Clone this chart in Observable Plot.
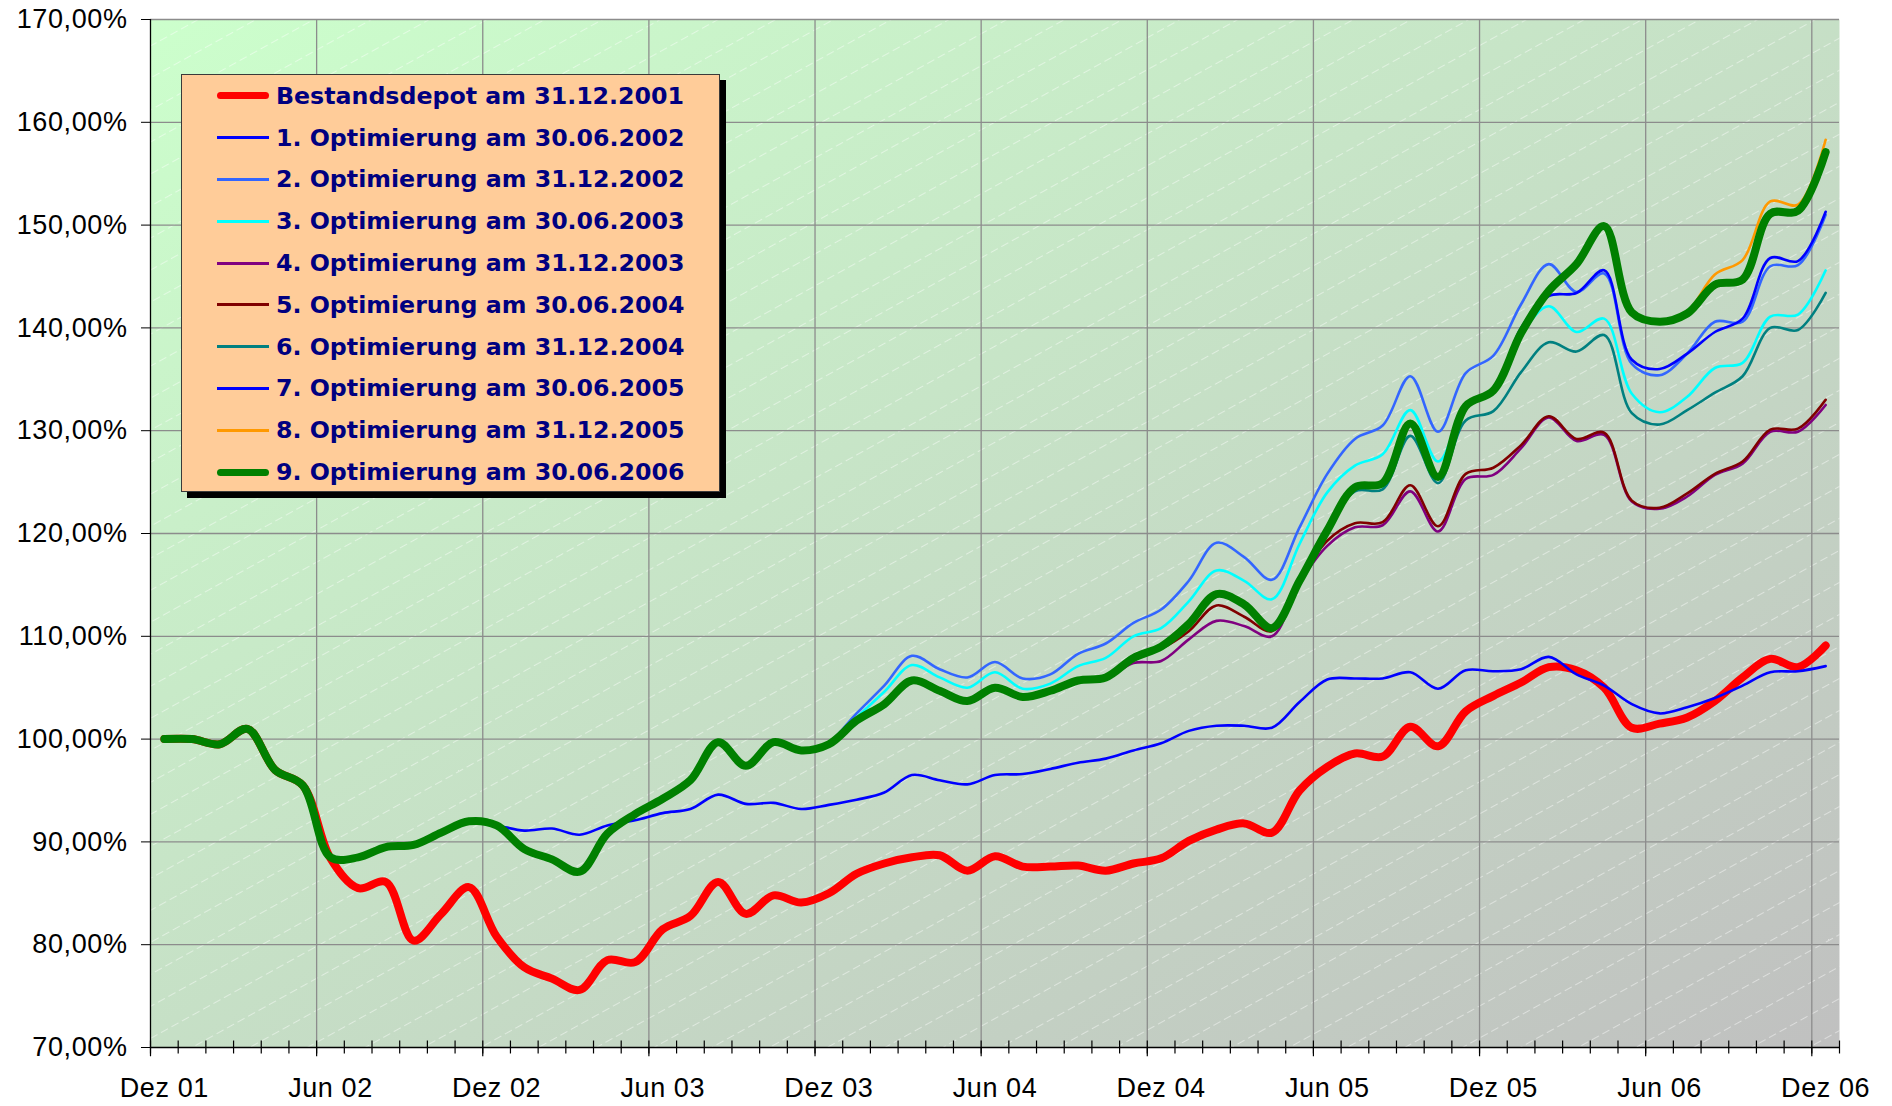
<!DOCTYPE html>
<html>
<head>
<meta charset="utf-8">
<script src="https://cdn.jsdelivr.net/npm/d3@7"></script>
<script src="https://cdn.jsdelivr.net/npm/@observablehq/plot@0.6"></script>
<style>
  html, body { margin: 0; padding: 0; background: #fff; overflow: hidden; }
  #wrap { position: relative; width: 1892px; height: 1106px; }
  #legend {
    position: absolute; left: 181px; top: 74px; width: 537px; height: 416px;
    background: #FFCC99; border: 1px solid #3a3a3a; box-shadow: 6px 6px 0 0 #000;
    font-family: "DejaVu Sans", Verdana, sans-serif; font-weight: bold; font-size: 23.7px; color: #000080;
  }
  #legend .row { display: flex; align-items: center; height: 41.8px; white-space: nowrap; }
  #legend .sw { width: 52px; margin-left: 35px; margin-right: 7px; }
</style>
</head>
<body>
<div id="wrap"><div id="legend"></div></div>
<script>
// ---- Data (monthly, Dez 01 = index 0 ... Dez 06 = index 60) ----
const tickLabels = ["Dez 01","Jun 02","Dez 02","Jun 03","Dez 03","Jun 04","Dez 04","Jun 05","Dez 05","Jun 06","Dez 06"];
const yTicks = [70, 80, 90, 100, 110, 120, 130, 140, 150, 160, 170];

const seriesNames = [
  "Bestandsdepot am 31.12.2001",
  "1. Optimierung am 30.06.2002",
  "2. Optimierung am 31.12.2002",
  "3. Optimierung am 30.06.2003",
  "4. Optimierung am 31.12.2003",
  "5. Optimierung am 30.06.2004",
  "6. Optimierung am 31.12.2004",
  "7. Optimierung am 30.06.2005",
  "8. Optimierung am 31.12.2005",
  "9. Optimierung am 30.06.2006"
];
// month index at which each series starts
const seriesStart = [0, 6, 12, 18, 24, 30, 36, 42, 48, 0];

const bestand = [100.0,100.0,99.5,101.0,97.0,95.5,88.4,85.5,86.1,80.4,83.0,85.6,
  80.8,77.8,76.7,75.6,78.5,78.3,81.5,82.8,86.1,83.0,84.8,84.1,
  85.0,86.9,87.9,88.5,88.7,87.2,88.6,87.6,87.6,87.7,87.2,87.9,
  88.4,90.1,91.2,91.8,90.9,95.0,97.3,98.6,98.3,101.2,99.3,102.7,
  104.2,105.5,107.0,106.7,105.0,101.1,101.5,102.1,103.7,106.0,107.8,107.0,109.1];
const opt1 = [88.5,88.5,89.5,89.7,90.9,92.0,
  91.6,91.1,91.3,90.7,91.6,92.1,92.8,93.2,94.6,93.7,93.8,93.2,
  93.6,94.1,94.8,96.5,96.0,95.6,96.5,96.6,97.1,97.7,98.1,98.9,
  99.6,100.8,101.3,101.3,101.1,103.6,105.8,105.9,105.9,106.5,104.9,106.7,
  106.6,106.8,108.0,106.3,105.2,103.4,102.5,103.1,104.0,105.2,106.5,106.6,107.1];
const opt2 = [91.6,89.3,88.3,87.1,90.8,92.7,94.2,96.0,99.7,97.4,99.7,98.9,
  99.7,102.5,105.2,108.1,106.8,106.0,107.5,105.9,106.3,108.3,109.3,111.3,
  112.6,115.4,119.1,117.7,115.5,120.6,125.8,129.2,130.5,135.3,129.9,135.6,
  137.3,142.3,146.2,143.5,145.3,136.5,135.4,137.5,140.6,140.6,146.0,146.1,151.0];
const opt3 = [94.2,96.0,99.7,97.4,99.7,98.9,
  99.6,102.1,104.6,107.2,106.0,105.0,106.5,104.9,105.4,107.1,107.9,110.0,
  110.8,113.4,116.4,115.4,113.6,119.0,124.0,126.6,127.7,132.0,127.0,132.4,
  134.0,139.3,142.1,139.6,140.9,133.6,131.8,133.3,136.1,136.6,141.1,141.3,145.6];
const opt4 = [99.5,101.8,103.4,105.7,104.7,103.7,
  104.9,103.9,104.6,105.6,105.9,107.4,
  107.6,109.7,111.5,111.0,110.0,115.2,118.8,120.6,120.8,124.1,120.2,125.3,
  125.7,128.3,131.3,129.0,129.6,123.1,122.4,123.6,125.7,126.8,129.9,129.9,132.5];
const opt5 = [105.0,104.1,104.7,105.7,106.0,107.9,
  108.8,110.5,113.0,111.9,110.5,115.4,119.3,121.0,121.1,124.7,120.7,125.8,
  126.4,128.6,131.4,129.2,129.8,123.2,122.5,123.9,125.8,127.0,130.1,130.2,133.0];
const opt6 = [109.0,111.2,114.1,113.1,110.8,115.4,120.2,124.1,124.3,129.5,124.9,131.0,
  131.9,135.7,138.6,137.7,139.3,131.7,130.6,132.0,133.7,135.3,140.0,139.8,143.4];
const opt7 = [120.3,124.5,124.9,130.7,125.5,132.4,
  133.9,140.0,143.1,143.4,145.6,136.9,136.0,137.5,139.6,140.9,146.8,146.5,151.3];
const opt8 = [133.9,139.5,143.6,146.2,149.9,141.5,140.6,
  141.6,145.2,146.6,152.3,152.0,158.3];
const opt9 = [100.0,100.0,99.5,101.0,97.0,95.5,88.5,88.5,89.5,89.7,90.9,92.0,
  91.6,89.3,88.3,87.1,90.8,92.7,94.2,96.0,99.7,97.4,99.7,98.9,
  99.5,101.8,103.4,105.7,104.7,103.7,105.0,104.1,104.7,105.7,106.0,107.9,
  109.0,111.2,114.1,113.1,110.8,115.4,120.3,124.5,124.9,130.7,125.5,132.4,
  133.9,139.5,143.6,146.2,149.9,141.5,140.6,141.4,144.2,144.7,151.1,151.4,157.1];

const seriesValues = [bestand, opt1, opt2, opt3, opt4, opt5, opt6, opt7, opt8, opt9];
const seriesColors = ["#FF0000","#0000FF","#3366FF","#00FFFF","#800080","#800000","#008080","#0000FF","#FF9900","#008000"];
const seriesWidths = [8, 2.6, 2.6, 2.6, 2.6, 2.6, 2.6, 2.6, 2.6, 8];

// ---- Derived helpers ----
const nMonths = 61;
const tickIdx = d3.range(0, nMonths, 6);            // label positions
const gridX = d3.range(5.5, nMonths - 1, 6);          // vertical gridlines (category boundaries)
const minorBounds = d3.range(-0.5, nMonths, 1);       // category boundaries
const majorBounds = [-0.5, ...gridX];
const fmtPct = d => d.toFixed(2).replace(".", ",") + "%";

const lineMarks = seriesValues.map((vals, k) =>
  Plot.line(vals.map((v, j) => ({i: seriesStart[k] + j, v})), {
    x: "i", y: "v", stroke: seriesColors[k], strokeWidth: seriesWidths[k],
    curve: "catmull-rom", strokeLinejoin: "round", strokeLinecap: "round"
  })
);

const chart = Plot.plot({
  width: 1892, height: 1106,
  marginLeft: 150, marginRight: 53, marginTop: 19, marginBottom: 59,
  x: {domain: [-0.5, nMonths - 0.5], axis: null},
  y: {domain: [70, 170], axis: null},
  style: "font-family: 'Liberation Sans', Arial, sans-serif; font-size: 27px; letter-spacing: 0.6px; color: #000; background: #fff; overflow: visible;",
  marks: [
    Plot.frame({fill: "url(#bg)"}),
    Plot.frame({fill: "url(#hatch)"}),
    Plot.ruleY(yTicks.filter(d => d > 70), {stroke: "#8c8c8c", strokeWidth: 1.3}),
    Plot.ruleX(gridX, {stroke: "#8c8c8c", strokeWidth: 1.3}),
    ...lineMarks,
    Plot.ruleX([-0.5], {stroke: "#000", strokeWidth: 1.3}),
    Plot.ruleY([70], {stroke: "#000", strokeWidth: 1.3}),
    Plot.ruleX(minorBounds, {y1: 69.37, y2: 70.63, stroke: "#000", strokeWidth: 1.2}),
    Plot.ruleX(majorBounds, {y1: 69.1, y2: 70, stroke: "#000", strokeWidth: 1.2}),
    Plot.axisY(yTicks, {tickSize: 9, tickPadding: 14, tickFormat: fmtPct, fontSize: 27, label: null}),
    Plot.axisX(tickIdx, {tickSize: 0, tickPadding: 30, fontSize: 27, label: null,
      tickFormat: d => tickLabels[tickIdx.indexOf(d)]})
  ]
});

// gradient background and faint diagonal texture
const defs = d3.select(chart).insert("defs", ":first-child");
const grad = defs.append("linearGradient").attr("id", "bg")
  .attr("x1", 0).attr("y1", 0).attr("x2", 1).attr("y2", 1);
grad.append("stop").attr("offset", 0).attr("stop-color", "#CCFFCC");
grad.append("stop").attr("offset", 1).attr("stop-color", "#C0C0C0");
const pat = defs.append("pattern").attr("id", "hatch")
  .attr("patternUnits", "userSpaceOnUse").attr("width", 12).attr("height", 28)
  .attr("patternTransform", "rotate(-29)");
pat.append("line").attr("x1", 0).attr("y1", 0.5).attr("x2", 8).attr("y2", 0.5)
  .attr("stroke", "#fff").attr("stroke-opacity", 0.45).attr("stroke-width", 1);

document.getElementById("wrap").prepend(chart);

// legend
const legend = d3.select("#legend");
seriesNames.forEach((name, k) => {
  const row = legend.append("div").attr("class", "row");
  const thick = seriesWidths[k] > 4;
  row.append("div").attr("class", "sw")
    .style("height", thick ? "7px" : "3px")
    .style("border-radius", thick ? "4px" : "0")
    .style("background", seriesColors[k]);
  row.append("span").text(name);
});
</script>
</body>
</html>
